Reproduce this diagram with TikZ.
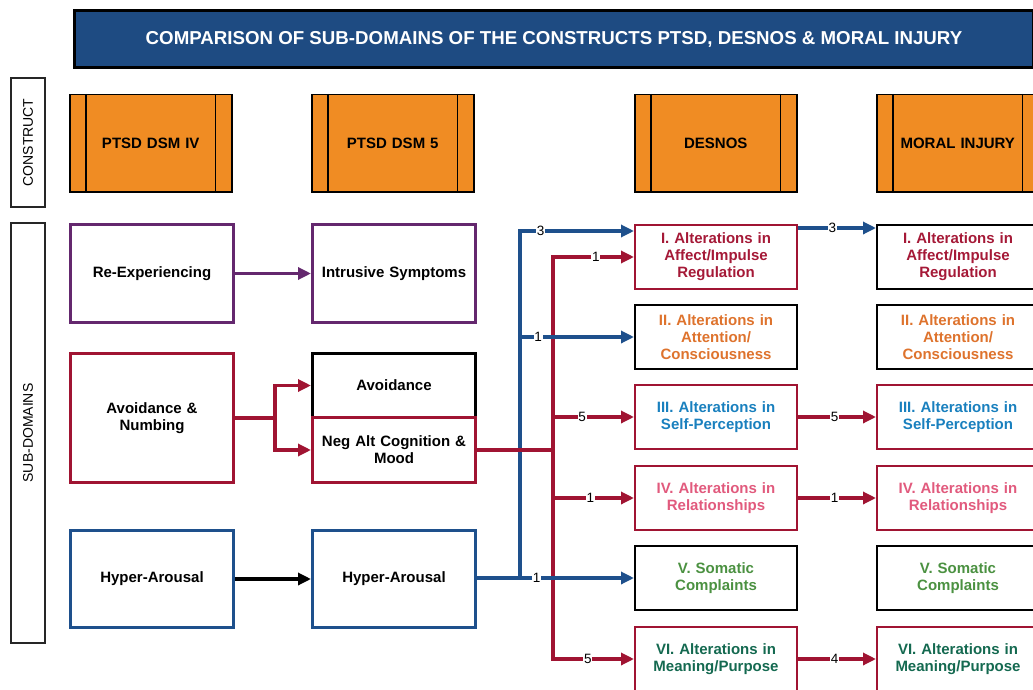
\documentclass[tikz,border=0pt]{standalone}
\usepackage{fontspec}
\setmainfont{Liberation Sans}
\usetikzlibrary{arrows.meta}
\definecolor{titleblue}{RGB}{30,75,130}
\definecolor{hdrorange}{RGB}{240,140,35}
\definecolor{purp}{RGB}{100,40,110}
\definecolor{crim}{RGB}{160,20,50}
\definecolor{lblue}{RGB}{30,80,140}
\definecolor{tI}{RGB}{165,25,55}
\definecolor{tII}{RGB}{222,115,45}
\definecolor{tIII}{RGB}{25,128,190}
\definecolor{tIV}{RGB}{225,90,125}
\definecolor{tV}{RGB}{75,145,65}
\definecolor{tVI}{RGB}{20,105,80}
\begin{document}
\begin{tikzpicture}[x=1pt,y=-1pt,
  txt/.style={font=\fontsize{15}{17}\selectfont\bfseries, align=center, text width=150pt, inner sep=0pt},
  hdr/.style={txt, draw=black, fill=hdrorange, line width=1.5pt, minimum width=162pt, minimum height=97pt, anchor=north west},
  sub/.style={txt, draw, line width=3pt, minimum width=163pt, anchor=north west},
  des/.style={txt, draw, line width=2pt, minimum width=162pt, minimum height=64pt, anchor=north west},
  side/.style={draw=black!85, line width=1.5pt, rotate=90, minimum height=34pt, font=\fontsize{14}{14}\selectfont},
  tip/.style={-{Triangle[length=13pt,width=12pt]}},
  conn/.style={line width=3.2pt},
  lbl/.style={fill=white, inner sep=0.8pt, font=\fontsize{13.5}{13.5}\selectfont, text=black}
]
\useasboundingbox (0,0) rectangle (1033,690);
% title
\node[fill=titleblue, draw=black, line width=3pt, minimum width=959pt, minimum height=57pt,
      anchor=north west, text=white, font=\fontsize{18.7}{20}\selectfont\bfseries, inner sep=0pt]
      (title) at (73,9) {COMPARISON OF SUB-DOMAINS OF THE CONSTRUCTS PTSD, DESNOS \& MORAL INJURY};
% side labels
\node[side, minimum width=129pt] (lc) at (28,142.5) {CONSTRUCT};
\node[side, minimum width=420pt] (ls) at (28,433) {SUB-DOMAINS};
% headers
\node[hdr] (h1) at (69,94) {PTSD DSM IV};
\node[hdr] (h2) at (311,94) {PTSD DSM 5};
\node[hdr] (h3) at (634,94) {DESNOS};
\node[hdr] (h4) at (876,94) {MORAL INJURY};
\foreach \h in {h1,h2,h3,h4}{
  \draw[line width=1.5pt] ([xshift=17pt]\h.north west) -- ([xshift=17pt]\h.south west);
  \draw[line width=1.5pt] ([xshift=-17pt]\h.north east) -- ([xshift=-17pt]\h.south east);
}
% PTSD sub-domains
\node[sub, draw=purp, minimum height=98pt] (re) at (69,223) {Re-Experiencing};
\node[sub, draw=purp, minimum height=98pt] (in) at (311,223) {Intrusive Symptoms};
\node[sub, draw=crim, minimum height=129pt] (an) at (69,352) {Avoidance \&\\Numbing};
\node[sub, draw=black, minimum height=64pt] (av) at (311,352) {Avoidance};
\node[sub, draw=crim, minimum height=65pt] (nac) at (311,416) {Neg Alt Cognition \&\\Mood};
\node[sub, draw=lblue, minimum height=97pt] (ha1) at (69,529) {Hyper-Arousal};
\node[sub, draw=lblue, minimum height=97pt] (ha2) at (311,529) {Hyper-Arousal};
% DESNOS
\node[des, draw=crim, text=tI] (d1) at (634,224) {I. Alterations in\\Affect/Impulse\\Regulation};
\node[des, draw=black, text=tII] (d2) at (634,304) {II. Alterations in\\Attention/\\Consciousness};
\node[des, draw=crim, text=tIII] (d3) at (634,384) {III. Alterations in\\Self-Perception};
\node[des, draw=crim, text=tIV] (d4) at (634,465) {IV. Alterations in\\Relationships};
\node[des, draw=black, text=tV] (d5) at (634,545) {V. Somatic\\Complaints};
\node[des, draw=crim, text=tVI] (d6) at (634,626) {VI. Alterations in\\Meaning/Purpose};
% Moral injury
\node[des, draw=black, text=tI] (m1) at (876,224) {I. Alterations in\\Affect/Impulse\\Regulation};
\node[des, draw=black, text=tII] (m2) at (876,304) {II. Alterations in\\Attention/\\Consciousness};
\node[des, draw=crim, text=tIII] (m3) at (876,384) {III. Alterations in\\Self-Perception};
\node[des, draw=crim, text=tIV] (m4) at (876,465) {IV. Alterations in\\Relationships};
\node[des, draw=black, text=tV] (m5) at (876,545) {V. Somatic\\Complaints};
\node[des, draw=crim, text=tVI] (m6) at (876,626) {VI. Alterations in\\Meaning/Purpose};
% left connectors
\draw[conn, tip, purp] (re.east) -- (in.west);
\draw[conn, tip, black] (ha1.east) -- (ha2.west);
\draw[conn, tip, crim] (an.east) -- ++(40,0) |- (av.west);
\draw[conn, tip, crim] (an.east) -- ++(40,0) |- (nac.west);
% junction coordinates
\coordinate (bv) at (520,0);
\coordinate (rv) at (553,0);
\coordinate (b1) at ([yshift=-7pt]d1.north west);
% blue trunk
\draw[conn, tip, lblue] (d5.west -| bv) -- (b1 -| bv) -- node[lbl, pos=.18]{3} (b1);
% red trunk
\draw[conn, crim] (nac.east) -- (nac.east -| rv);
\draw[conn, tip, crim] (nac.east -| rv) -- (d1.west -| rv) -- node[lbl, pos=.53]{1} (d1.west);
\draw[conn, tip, crim] (nac.east -| rv) -- (d6.west -| rv) -- node[lbl, pos=.43]{5} (d6.west);
\draw[conn, tip, crim] (d3.west -| rv) -- node[lbl, pos=.36]{5} (d3.west);
\draw[conn, tip, crim] (d4.west -| rv) -- node[lbl, pos=.46]{1} (d4.west);
% blue branches
\draw[conn, tip, lblue] (d2.west -| bv) -- node[lbl, pos=.16]{1} (d2.west);
\draw[conn, tip, lblue] (d5.west -| ha2.east) -- node[lbl, pos=.38]{1} (d5.west);
% DESNOS -> Moral injury
\draw[conn, tip, lblue] ([yshift=-4pt]d1.north east) -- node[lbl, pos=.44]{3} ([yshift=-4pt]m1.north west);
\draw[conn, tip, crim] (d3.east) -- node[lbl, pos=.47]{5} (m3.west);
\draw[conn, tip, crim] (d4.east) -- node[lbl, pos=.47]{1} (m4.west);
\draw[conn, tip, crim] (d6.east) -- node[lbl, pos=.47]{4} (m6.west);
\end{tikzpicture}
\end{document}
